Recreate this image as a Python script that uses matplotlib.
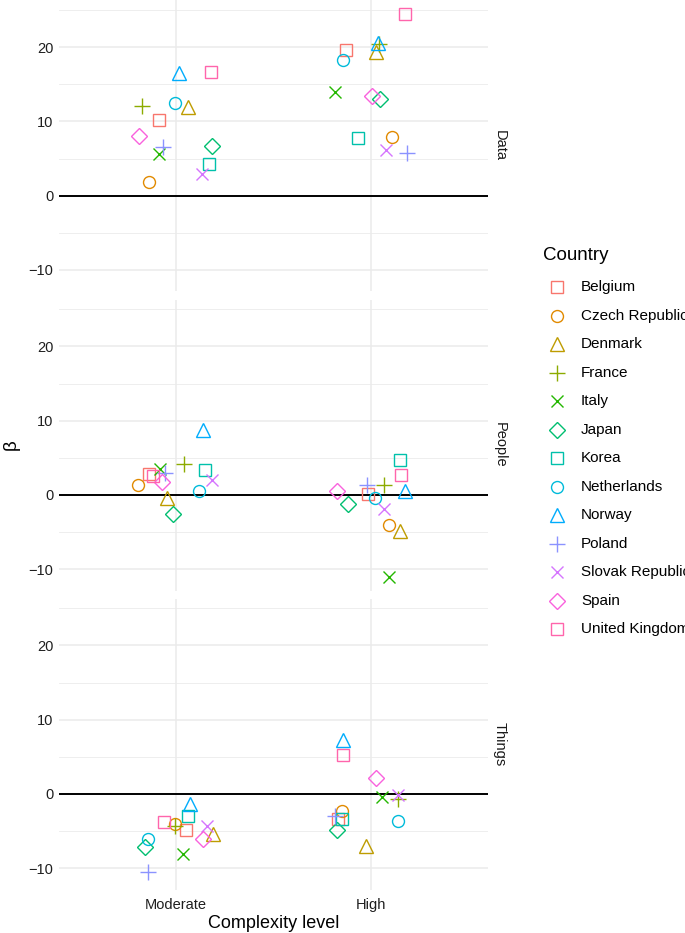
import matplotlib
matplotlib.use("Agg")
import matplotlib.pyplot as plt
import numpy as np

plt.rcParams['font.family'] = ['Liberation Sans', 'DejaVu Sans']

countries = ["Belgium", "Czech Republic", "Denmark", "France", "Italy", "Japan", "Korea",
             "Netherlands", "Norway", "Poland", "Slovak Republic", "Spain", "United Kingdom"]
levels = ["Moderate", "High"]
facets = ["Data", "People", "Things"]

# beta values per facet and complexity level (country order as above)
data_moderate = [10.2, 1.8, 11.9, 12.1, 5.6, 6.7, 4.3, 12.5, 16.5, 6.6, 2.9, 8.0, 16.7]
data_high = [19.6, 7.95, 19.3, 20.4, 14.0, 13.0, 7.7, 18.2, 20.5, 5.7, 6.2, 13.4, 24.5]
people_moderate = [2.8, 1.35, -0.4, 4.2, 3.5, -2.5, 3.4, 0.5, 8.8, 3.0, 2.0, 1.7, 2.6]
people_high = [0.1, -4.0, -4.8, 1.3, -11.1, -1.2, 4.7, -0.45, 0.5, 1.35, -1.9, 0.55, 2.65]
things_moderate = [-4.8, -4.0, -5.4, -4.3, -8.1, -7.1, -3.0, -6.0, -1.3, -10.45, -4.3, -6.0, -3.8]
things_high = [-3.4, -2.3, -7.0, -0.7, -0.35, -4.85, -3.3, -3.65, 7.2, -3.0, -0.15, 2.1, 5.3]

# horizontal jitter (category units)
jit_data_moderate = [-0.086, -0.14, 0.063, -0.173, -0.086, 0.185, 0.171, -0.005, 0.017, -0.065, 0.132, -0.19, 0.18]
jit_data_high = [-0.129, 0.11, 0.024, 0.043, -0.187, 0.048, -0.067, -0.146, 0.034, 0.184, 0.077, 0.005, 0.176]
jit_people_moderate = [-0.137, -0.197, -0.048, 0.041, -0.082, -0.014, 0.151, 0.12, 0.137, -0.057, 0.183, -0.074, -0.117]
jit_people_high = [-0.015, 0.092, 0.15, 0.065, 0.092, -0.12, 0.148, 0.018, 0.172, -0.02, 0.065, -0.175, 0.155]
jit_things_moderate = [0.053, -0.004, 0.189, -0.007, 0.038, -0.158, 0.063, -0.142, 0.072, -0.146, 0.161, 0.14, -0.062]
jit_things_high = [-0.17, -0.15, -0.024, 0.137, 0.058, -0.175, -0.15, 0.137, -0.146, -0.187, 0.137, 0.024, -0.146]

values = {"Data": (data_moderate, data_high),
          "People": (people_moderate, people_high),
          "Things": (things_moderate, things_high)}
jitters = {"Data": (jit_data_moderate, jit_data_high),
           "People": (jit_people_moderate, jit_people_high),
           "Things": (jit_things_moderate, jit_things_high)}

colors = ["#F8766D", "#E18A00", "#BE9C00", "#8CAB00", "#24B700", "#00BE70", "#00C1AB",
          "#00BBDA", "#00ACFC", "#8B93FF", "#D575FE", "#F962DD", "#FF65AC"]
shape_cycle = ['s', 'o', '^', '+', 'x', 'D']
msize = {'s': 8.4, 'o': 8.6, '^': 10.5, '+': 12.0, 'x': 8.5, 'D': 8.0}
mew = 1.0

W, H = 685, 933
fig = plt.figure(figsize=(W / 100, H / 100), dpi=100)

def ax_rect(l, t, r, b):
    return [l / W, 1 - b / H, (r - l) / W, (b - t) / H]

all_vals = data_moderate + data_high + people_moderate + people_high + things_moderate + things_high
vmin, vmax = min(all_vals), max(all_vals)
pad = 0.05 * (vmax - vmin)
ylim = (vmin - pad, vmax + pad)

panel_tops = [0.4, 299.7, 598.7]
panel_h = 291.0
left_px, right_px = 59, 488
txt_col = "#1F1F1F"

for fi, facet in enumerate(facets):
    t = panel_tops[fi]
    ax = fig.add_axes(ax_rect(left_px, t, right_px, t + panel_h))
    ax.set_xlim(0.4, 2.6)
    ax.set_ylim(*ylim)
    for s in ax.spines.values():
        s.set_visible(False)
    # grid
    for yv in [-10, 0, 10, 20]:
        ax.axhline(yv, color="#EBEBEB", lw=1.1, zorder=0)
    for yv in [-5, 5, 15, 25]:
        ax.axhline(yv, color="#EBEBEB", lw=0.6, zorder=0)
    for xv in [1, 2]:
        ax.axvline(xv, color="#EBEBEB", lw=1.1, zorder=0)
    ax.axhline(0, color="black", lw=1.4, zorder=1)
    for li in range(2):
        vals = values[facet][li]
        jits = jitters[facet][li]
        for ci, c in enumerate(countries):
            m = shape_cycle[ci % 6]
            ax.plot(li + 1 + jits[ci], vals[ci], linestyle='none', marker=m,
                    markersize=msize[m], markerfacecolor='none',
                    markeredgecolor=colors[ci], markeredgewidth=mew, zorder=3)
    ax.set_yticks([-10, 0, 10, 20])
    ax.set_yticklabels(["\u221210", "0", "10", "20"])
    ax.tick_params(axis='y', length=0, pad=4, labelsize=10.5, labelcolor=txt_col)
    ax.set_xticks([1, 2])
    if fi == 2:
        ax.set_xticklabels(levels)
        ax.tick_params(axis='x', length=0, pad=6, labelsize=10.5, labelcolor=txt_col)
    else:
        ax.set_xticklabels([])
        ax.tick_params(axis='x', length=0)
    ax.set_facecolor('none')
    fig.text(500 / W, 1 - (t + panel_h / 2) / H, facet, rotation=-90, ha='center', va='center',
             fontsize=10.5, color="#1A1A1A")

fig.text(273.5 / W, 1 - 923 / H, "Complexity level", ha='center', va='center', fontsize=13, color='black')
fig.text(11 / W, 1 - 445 / H, "\u03b2", rotation=90, ha='center', va='center', fontsize=13.5, color='black')

# legend
fig.text(543 / W, 1 - 256 / H, "Country", ha='left', va='center', fontsize=13.5, color='black')
lax = fig.add_axes([0, 0, 1, 1])
lax.set_xlim(0, W)
lax.set_ylim(H, 0)
lax.axis('off')
for ci, c in enumerate(countries):
    y = 287.3 + ci * 28.5
    m = shape_cycle[ci % 6]
    lax.plot(557, y, linestyle='none', marker=m, markersize=msize[m], markerfacecolor='none',
             markeredgecolor=colors[ci], markeredgewidth=mew)
    lax.text(581, y, c, ha='left', va='center', fontsize=11, color='black')

fig.savefig("out.png", dpi=100)
